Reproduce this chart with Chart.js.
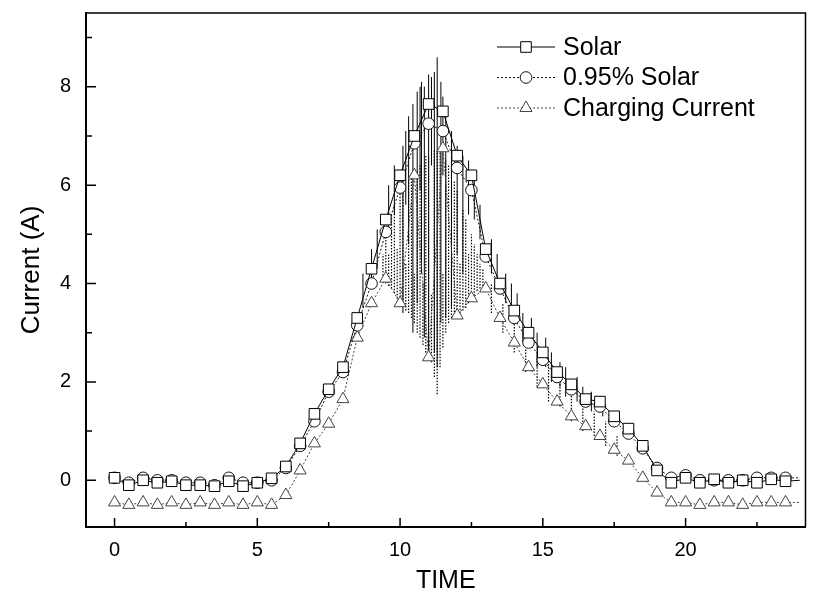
<!DOCTYPE html>
<html lang="en">
<head>
    <meta charset="UTF-8">
    <title>Current vs Time</title>
    <script src="https://cdn.jsdelivr.net/npm/chart.js"></script>
    <style>
        body { margin: 0; background: #fff; }
        #currentChart { display: block; }
    </style>
</head>
<body>
    <canvas id="currentChart" width="814" height="594"></canvas>
    <script>
        // hourly readings, one every half hour
        var hours = [0, 0.5, 1, 1.5, 2, 2.5, 3, 3.5, 4, 4.5, 5, 5.5, 6, 6.5, 7, 7.5, 8, 8.5, 9, 9.5,
            10, 10.5, 11, 11.5, 12, 12.5, 13, 13.5, 14, 14.5, 15, 15.5, 16, 16.5, 17, 17.5, 18, 18.5,
            19, 19.5, 20, 20.5, 21, 21.5, 22, 22.5, 23, 23.5, 24];
        var solar = [0.05, -0.1, 0.0, -0.05, -0.02, -0.1, -0.1, -0.12, -0.02, -0.12, -0.05, 0.04, 0.28, 0.75,
            1.35, 1.85, 2.3, 3.3, 4.3, 5.3, 6.2, 7.0, 7.65, 7.5, 6.6, 6.2, 4.7, 4.0, 3.45, 3.0, 2.6, 2.2,
            1.95, 1.65, 1.6, 1.3, 1.05, 0.7, 0.2, -0.05, 0.05, -0.05, 0.02, -0.05, 0.0, -0.05, 0.02, -0.02, 0.0];
        var solar95 = [0.05, -0.05, 0.05, 0.0, 0.0, -0.05, -0.05, -0.1, 0.05, -0.05, -0.05, 0.0, 0.25, 0.7,
            1.2, 1.8, 2.2, 3.15, 4.0, 5.05, 5.95, 6.85, 7.25, 7.1, 6.35, 5.9, 4.55, 3.9, 3.3, 2.8, 2.45, 2.1,
            1.85, 1.6, 1.5, 1.2, 0.95, 0.65, 0.25, 0.05, 0.1, 0.0, 0.0, 0.0, 0.0, 0.05, 0.05, 0.05, 0.05];
        var charging = [-0.45, -0.5, -0.45, -0.5, -0.45, -0.5, -0.45, -0.5, -0.45, -0.5, -0.45, -0.5, -0.3, 0.2,
            0.75, 1.15, 1.65, 2.9, 3.6, 4.1, 3.6, 6.2, 2.5, 6.75, 3.35, 3.7, 3.9, 3.3, 2.8, 2.3, 1.95, 1.6,
            1.3, 1.1, 0.9, 0.62, 0.4, 0.05, -0.25, -0.45, -0.45, -0.5, -0.45, -0.45, -0.5, -0.45, -0.45, -0.45, -0.45];

        // fast swings of the solar current between samples (time, low, high)
        var solarSwingTime = [8.7, 9.0, 9.2, 9.6, 9.8, 10.1, 10.2, 10.3, 10.45, 10.6, 10.7, 10.75, 10.85, 11.0,
            11.1, 11.2, 11.3, 11.43, 11.5, 11.6, 11.8, 12.0, 12.2, 12.4, 12.6, 12.8, 13.2, 13.4, 13.7, 13.9,
            14.1, 14.3, 14.6, 14.8, 15.1, 15.3, 15.6, 15.8, 16.2, 16.4, 16.7, 17.1];
        var solarSwingLow = [3.5, 3.9, 4.3, 5.0, 5.4, 3.4, 5.6, 4.8, 3.0, 3.6, 5.9, 4.2, 2.9, 2.5,
            6.4, 2.6, 2.3, 3.2, 6.2, 3.3, 3.5, 4.6, 4.2, 5.4, 5.3, 4.9, 4.2, 3.9, 3.6, 3.3,
            3.2, 2.8, 2.7, 2.3, 2.3, 2.0, 1.9, 1.7, 1.6, 1.5, 1.4, 1.3];
        var solarSwingHigh = [4.2, 4.7, 5.1, 6.0, 6.4, 6.8, 7.1, 7.4, 7.65, 7.9, 8.0, 8.1, 8.0, 8.25,
            8.2, 8.3, 8.6, 8.1, 7.8, 7.4, 7.1, 6.8, 6.6, 6.5, 6.1, 5.6, 4.9, 4.6, 4.2, 4.0,
            3.8, 3.4, 3.3, 3.0, 2.9, 2.6, 2.4, 2.3, 2.1, 1.9, 1.8, 1.7];

        // charging current switching on and off around midday, plus the ripple after it (time, low, high)
        var chargeSwingTime = [9.4, 9.5, 9.6, 9.7, 9.8, 9.9, 10.0, 10.1, 10.2, 10.3, 10.4, 10.5, 10.6, 10.7,
            10.8, 10.9, 11.0, 11.1, 11.2, 11.3, 11.4, 11.5, 11.6, 11.7, 11.8, 11.9, 12.0, 12.1, 12.2, 12.3,
            12.4, 12.5, 12.6, 12.7, 12.8, 12.9, 13.2, 13.6, 14.0, 14.4, 14.8, 15.2, 15.6, 16.0, 16.4, 16.8,
            17.2, 17.6];
        var chargeSwingLow = [4.1, 4.0, 3.95, 3.9, 3.8, 3.7, 3.6, 3.55, 3.45, 3.4, 3.3, 3.2, 3.0, 2.9,
            2.75, 2.6, 2.5, 2.4, 2.1, 1.75, 2.3, 2.7, 3.0, 3.2, 3.3, 3.3, 3.35, 3.4, 3.45, 3.5,
            3.6, 3.7, 3.75, 3.85, 3.9, 3.95, 3.4, 3.0, 2.6, 2.2, 1.9, 1.6, 1.5, 1.2, 1.0, 0.9,
            0.7, 0.5];
        var chargeSwingHigh = [4.6, 5.0, 4.6, 5.4, 5.6, 4.7, 5.9, 6.0, 4.4, 6.1, 6.2, 4.2, 6.3, 6.4,
            4.0, 6.6, 6.6, 3.8, 6.7, 6.7, 6.75, 4.2, 6.5, 6.4, 4.3, 6.1, 5.9, 4.4, 5.5, 5.3,
            4.6, 5.0, 4.8, 4.6, 4.4, 4.3, 4.0, 3.6, 3.2, 2.9, 2.6, 2.4, 2.1, 1.9, 1.6, 1.4,
            1.2, 0.9];

        var xTicks = [0, 5, 10, 15, 20];
        var xMinorTicks = [2.5, 7.5, 12.5, 17.5, 22.5];
        var yTicks = [0, 2, 4, 6, 8];
        var yMinorTicks = [1, 3, 5, 7, 9];

        function toPoints(xs, ys) {
            return xs.map(function (x, i) { return { x: x, y: ys[i] }; });
        }

        // vertical strokes separated by gaps
        function toSwings(ts, lows, highs) {
            var pts = [];
            ts.forEach(function (t, i) {
                pts.push({ x: t, y: lows[i] });
                pts.push({ x: t, y: highs[i] });
                pts.push({ x: t, y: null });
            });
            return pts;
        }

        function hideLast(r) {
            return function (ctx) { return ctx.dataIndex === hours.length - 1 ? 0 : r; };
        }

        var series = [
            { label: 'Solar', data: toPoints(hours, solar), pointStyle: 'rect', radius: 7.5, dash: [], color: '#000' },
            { label: '0.95% Solar', data: toPoints(hours, solar95), pointStyle: 'circle', radius: 5.8, dash: [2, 2], color: '#111' },
            { label: 'Charging Current', data: toPoints(hours, charging), pointStyle: 'triangle', radius: 7, dash: [2, 2], color: '#444' }
        ];

        var datasets = series.map(function (s) {
            return {
                label: s.label,
                data: s.data,
                borderColor: s.color,
                borderWidth: 1,
                borderDash: s.dash,
                pointStyle: s.pointStyle,
                pointRadius: hideLast(s.radius),
                pointBackgroundColor: '#fff',
                pointBorderColor: s.color,
                pointBorderWidth: 1,
                tension: 0
            };
        });
        datasets.push({
            label: 'solar swings',
            data: toSwings(solarSwingTime, solarSwingLow, solarSwingHigh),
            borderColor: '#000',
            borderWidth: 1,
            pointRadius: 0,
            spanGaps: false
        });
        datasets.push({
            label: 'charge swings',
            data: toSwings(chargeSwingTime, chargeSwingLow, chargeSwingHigh),
            borderColor: '#000',
            borderWidth: 1.2,
            borderDash: [1.5, 1.5],
            pointRadius: 0,
            spanGaps: false
        });

        // inward ticks, frame and the boxed legend
        var framePlugin = {
            id: 'frame',
            afterDraw: function (chart) {
                var ctx = chart.ctx;
                var a = chart.chartArea;
                var xs = chart.scales.x, ys = chart.scales.y;
                ctx.save();
                ctx.strokeStyle = '#000';
                ctx.lineWidth = 1.5;
                ctx.beginPath();
                ctx.moveTo(a.left, a.top);
                ctx.lineTo(a.right, a.top);
                ctx.lineTo(a.right, a.bottom);
                ctx.stroke();

                ctx.beginPath();
                xTicks.forEach(function (v) {
                    var px = xs.getPixelForValue(v);
                    ctx.moveTo(px, a.bottom); ctx.lineTo(px, a.bottom - 9);
                });
                xMinorTicks.forEach(function (v) {
                    var px = xs.getPixelForValue(v);
                    ctx.moveTo(px, a.bottom); ctx.lineTo(px, a.bottom - 5);
                });
                yTicks.forEach(function (v) {
                    var py = ys.getPixelForValue(v);
                    ctx.moveTo(a.left, py); ctx.lineTo(a.left + 10, py);
                });
                yMinorTicks.forEach(function (v) {
                    var py = ys.getPixelForValue(v);
                    ctx.moveTo(a.left, py); ctx.lineTo(a.left + 6, py);
                });
                ctx.stroke();

                // legend
                var lx = 497, lw = 58, ly = 47, rowH = 30.5;
                ctx.font = '25px "Liberation Sans", Arial, sans-serif';
                ctx.textBaseline = 'middle';
                ctx.textAlign = 'left';
                series.forEach(function (s, i) {
                    var y = ly + i * rowH;
                    ctx.strokeStyle = s.color;
                    ctx.lineWidth = 1;
                    ctx.setLineDash(s.dash);
                    ctx.beginPath();
                    ctx.moveTo(lx, y);
                    ctx.lineTo(lx + lw, y);
                    ctx.stroke();
                    ctx.setLineDash([]);
                    ctx.fillStyle = '#fff';
                    Chart.helpers.drawPoint(ctx, { pointStyle: s.pointStyle, radius: s.radius, rotation: 0, borderWidth: 1 }, lx + lw / 2, y);
                    ctx.fillStyle = '#000';
                    ctx.fillText(s.label, 563, y + 1);
                });
                ctx.restore();
            }
        };

        new Chart(document.getElementById('currentChart'), {
            type: 'line',
            data: { datasets: datasets },
            options: {
                responsive: false,
                animation: false,
                layout: { padding: { top: 13, right: 4, left: 0, bottom: 0 } },
                plugins: { legend: { display: false }, tooltip: { enabled: false } },
                scales: {
                    x: {
                        type: 'linear',
                        min: -1,
                        max: 24.2,
                        afterBuildTicks: function (scale) {
                            scale.ticks = xTicks.map(function (v) { return { value: v }; });
                        },
                        afterFit: function (scale) {
                            scale.height = 67;
                            scale.paddingLeft = 0;
                            scale.paddingRight = 0;
                        },
                        grid: { display: false, drawTicks: false },
                        border: { display: true, color: '#000', width: 2 },
                        ticks: {
                            padding: 11,
                            color: '#000',
                            font: { family: '"Liberation Sans", Arial, sans-serif', size: 20 }
                        },
                        title: {
                            display: true,
                            text: 'TIME',
                            color: '#000',
                            font: { family: '"Liberation Sans", Arial, sans-serif', size: 25, lineHeight: 1 },
                            padding: { top: 2.5, bottom: 0 }
                        }
                    },
                    y: {
                        min: -0.95,
                        max: 9.5,
                        afterBuildTicks: function (scale) {
                            scale.ticks = yTicks.map(function (v) { return { value: v }; });
                        },
                        afterFit: function (scale) {
                            scale.width = 86;
                            scale.paddingTop = 0;
                            scale.paddingBottom = 0;
                        },
                        grid: { display: false, drawTicks: false },
                        border: { display: true, color: '#000', width: 2 },
                        ticks: {
                            padding: 15,
                            color: '#000',
                            font: { family: '"Liberation Sans", Arial, sans-serif', size: 20 }
                        },
                        title: {
                            display: true,
                            text: 'Current (A)',
                            color: '#000',
                            font: { family: '"Liberation Sans", Arial, sans-serif', size: 26, lineHeight: 1 },
                            padding: { top: 19, bottom: 0 }
                        }
                    }
                }
            },
            plugins: [framePlugin]
        });
    </script>
</body>
</html>
